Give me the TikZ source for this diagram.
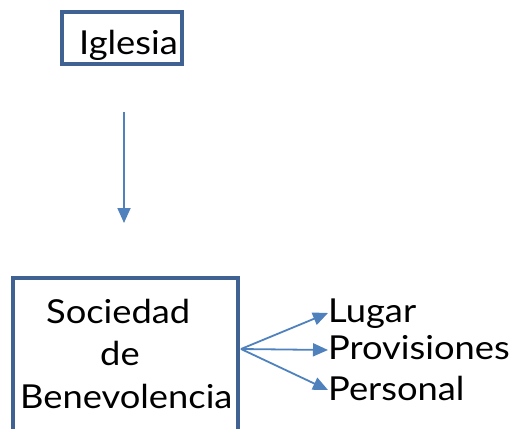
\documentclass[tikz,border=0pt]{standalone}
\usepackage{fontspec}
\setmainfont[FakeStretch=1.1]{Lato}
\usetikzlibrary{arrows.meta}
\definecolor{boxblue}{RGB}{63,98,146}
\definecolor{arrblue}{RGB}{79,129,189}
\begin{document}
\begin{tikzpicture}[x=1pt,y=-1pt,
  boxst/.style={draw=boxblue,line width=4pt,inner sep=0pt},
  conn/.style={draw=arrblue,line width=1.8pt,-{Triangle[length=15pt,width=13pt]}},
  lbl/.style={anchor=base west,inner sep=0pt,font=\fontsize{33}{38}\selectfont}]
\useasboundingbox (0,0) rectangle (516,428);
\clip (0,0) rectangle (516,428);
\node[boxst,minimum width=120pt,minimum height=52pt] (igl) at (121.5,38) {};
\node[lbl] (igltxt) at (79,55) {Iglesia};
\coordinate (a1) at (124,112);
\coordinate (a2) at (124,223);
\draw[conn] (a1) -- (a2);
\node[boxst,minimum width=225pt,minimum height=170pt] (soc) at (125.5,363) {};
\node[lbl] (t1) at (46,323) {Sociedad};
\node[lbl] (t2) at (100,365) {de};
\node[lbl] (t3) at (20,408) {Benevolencia};
\coordinate (s) at (241,349);
\node[lbl] (lug) at (328,322) {Lugar};
\node[lbl] (pro) at (328,359) {Provisiones};
\node[lbl] (per) at (328,400) {Personal};
\coordinate (e1) at (328,313);
\coordinate (e2) at (328,350);
\coordinate (e3) at (328,390);
\draw[conn] (s) -- (e1);
\draw[conn] (s) -- (e2);
\draw[conn] (s) -- (e3);
\end{tikzpicture}
\end{document}
